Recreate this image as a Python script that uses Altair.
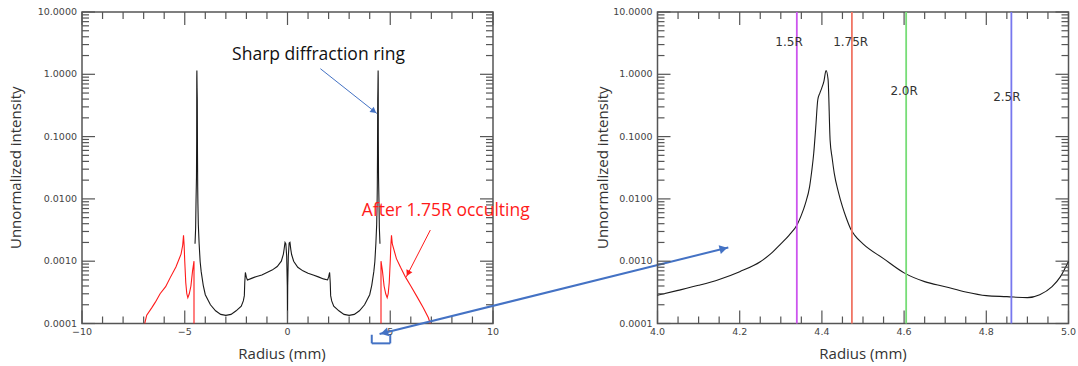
import altair as alt
import pandas as pd

# ---------------- Left panel: full radial profile (black) ----------------
profile_x = [
    -4.50, -4.47, -4.45, -4.43, -4.42, -4.415, -4.41, -4.40, -4.39, -4.38,
    -4.37, -4.36, -4.34, -4.30, -4.25, -4.20, -4.10, -4.00, -3.75, -3.50,
    -3.25, -3.00, -2.75, -2.50, -2.25, -2.15, -2.10, -2.08, -2.05, -2.00,
    -1.95, -1.75, -1.50, -1.25, -1.00, -0.75, -0.50, -0.30, -0.20, -0.16,
    -0.12, -0.08, -0.04, -0.01, 0.00, 0.01, 0.04, 0.08, 0.12, 0.16,
    0.20, 0.30, 0.50, 0.75, 1.00, 1.25, 1.50, 1.75, 1.95, 2.00,
    2.05, 2.08, 2.10, 2.15, 2.25, 2.50, 2.75, 3.00, 3.25, 3.50,
    3.75, 4.00, 4.10, 4.20, 4.25, 4.30, 4.34, 4.36, 4.37, 4.38,
    4.39, 4.40, 4.41, 4.415, 4.42, 4.43, 4.45, 4.47, 4.50,
]
profile_y = [
    0.0019, 0.0034, 0.0096, 0.022, 0.087, 0.83, 1.15, 0.61, 0.39, 0.053,
    0.0156, 0.0085, 0.0039, 0.0019, 0.00098, 0.00068, 0.00041, 0.00029, 0.00020, 0.00016,
    0.00014, 0.000135, 0.00014, 0.00016, 0.00019, 0.00023, 0.00028, 0.00045, 0.00066, 0.00055,
    0.00050, 0.00053, 0.00057, 0.00060, 0.00066, 0.00072, 0.00082, 0.00100, 0.00130, 0.00160,
    0.00200, 0.00190, 0.00120, 0.00040, 0.00010, 0.00040, 0.00120, 0.00195, 0.00200, 0.00155,
    0.00128, 0.00100, 0.00080, 0.00070, 0.00064, 0.00060, 0.00056, 0.00052, 0.00050, 0.00056,
    0.00066, 0.00045, 0.00028, 0.00023, 0.00019, 0.00016, 0.00014, 0.000135, 0.00014, 0.00016,
    0.00020, 0.00029, 0.00041, 0.00068, 0.00098, 0.0019, 0.0039, 0.0085, 0.0156, 0.053,
    0.39, 0.61, 1.15, 0.83, 0.087, 0.022, 0.0096, 0.0034, 0.0019,
]

# ---------------- Left panel: after 1.75R occulting (red) ----------------
red_left_x = [-6.95, -6.85, -6.60, -6.43, -6.20, -5.93, -5.70, -5.43, -5.18, -5.10,
              -5.06, -5.03, -5.00, -4.95, -4.90, -4.85, -4.78, -4.70, -4.62, -4.55, -4.55]
red_left_y = [0.0001, 0.000136, 0.00018, 0.00022, 0.0003, 0.00039, 0.00055, 0.00081, 0.0013, 0.0018,
              0.0026, 0.0018, 0.0010, 0.00045, 0.0003, 0.00026, 0.0003, 0.0004, 0.0007, 0.0010, 0.0001]
red_right_x = [4.55, 4.55, 4.62, 4.70, 4.78, 4.85, 4.90, 4.95, 5.00, 5.03,
               5.06, 5.10, 5.30, 5.50, 5.75, 6.00, 6.30, 6.60, 6.85, 6.95]
red_right_y = [0.0001, 0.0010, 0.0007, 0.0004, 0.0003, 0.00026, 0.0003, 0.00045, 0.0010, 0.0018,
               0.0026, 0.0019, 0.0011, 0.0008, 0.00055, 0.0004, 0.00027, 0.00018, 0.000125, 0.0001]

# ---------------- Right panel: zoom on the ring ----------------
zoom_x = [4.00, 4.05, 4.10, 4.15, 4.20, 4.25, 4.28, 4.30, 4.32, 4.34,
          4.35, 4.36, 4.37, 4.375, 4.38, 4.385, 4.39, 4.395, 4.40, 4.405,
          4.41, 4.415, 4.42, 4.425, 4.43, 4.44, 4.45, 4.46, 4.47, 4.48,
          4.50, 4.55, 4.60, 4.65, 4.70, 4.75, 4.80, 4.85, 4.90, 4.93,
          4.96, 4.98, 5.00]
zoom_y = [0.000285, 0.00034, 0.00041, 0.00051, 0.00068, 0.00098, 0.0014, 0.0019, 0.0026, 0.0039,
          0.0055, 0.0085, 0.0156, 0.027, 0.053, 0.14, 0.39, 0.50, 0.61, 0.78,
          1.15, 0.83, 0.087, 0.045, 0.026, 0.013, 0.0075, 0.0048, 0.0033, 0.0026,
          0.0019, 0.0011, 0.00065, 0.00047, 0.00039, 0.00032, 0.00028, 0.00027, 0.00026, 0.00029,
          0.00039, 0.00056, 0.0010]

ring_names = ["1.5R", "1.75R", "2.0R", "2.5R"]
ring_pos = [4.339, 4.473, 4.605, 4.861]
ring_colors = ["#cc55ee", "#f07565", "#77dd77", "#7777ee"]
ring_label_x = [4.32, 4.47, 4.60, 4.85]
ring_label_y = [3.3, 3.3, 0.54, 0.44]

# ---------------- axis ticks / labels ----------------
y_major = [0.0001, 0.001, 0.01, 0.1, 1, 10]
y_minor = [m * 10.0 ** e for e in range(-4, 1) for m in range(2, 10)]
xl_major = [-10, -5, 0, 5, 10]
xl_minor = [-9, -8, -7, -6, -4, -3, -2, -1, 1, 2, 3, 4, 6, 7, 8, 9]
xr_major = [4.0, 4.2, 4.4, 4.6, 4.8, 5.0]
xr_minor = [4.05, 4.10, 4.15, 4.25, 4.30, 4.35, 4.45, 4.50, 4.55,
            4.65, 4.70, 4.75, 4.85, 4.90, 4.95]
x_title = "Radius (mm)"
y_title = "Unnormalized intensity"

# ---------------- annotations (data units of the left panel) ----------------
sharp_label = ["Sharp diffraction ring"]
sharp_label_x = [1.51]
sharp_label_y = [2.02]
sharp_arrow = {"x": [1.6], "y": [1.23], "x2": [4.36], "y2": [0.234]}
occ_label = ["After 1.75R occulting"]
occ_label_x = [7.7]
occ_label_y = [0.0065]
occ_arrow = {"x": [6.95], "y": [0.00316], "x2": [5.78], "y2": [0.00056]}
link_arrow = {"x": [4.48], "y": [6.8e-5], "x2": [21.45], "y2": [0.00166]}
bracket = {"x": [4.1, 4.1, 5.0], "x2": [4.1, 5.0, 5.0],
           "y": [6.6e-5, 4.8e-5, 4.8e-5], "y2": [4.8e-5, 4.8e-5, 6.6e-5]}

# ---------------- styling ----------------
TICK = "#555555"
LABEL_FONT = "DejaVu Sans"
TITLE_FONT = "Open Sans"
W, H = 411, 311.5
BLUE = "#4472c4"
MAJ, MIN = 13, 7

ys = alt.Scale(type="log", domain=[0.0001, 10])


def tick_rules(values, side, length, xs):
    """Inward frame ticks at the given axis values (positioned through the scales)."""
    d = pd.DataFrame({"v": values})
    r = alt.Chart(d).mark_rule(color=TICK, strokeWidth=1.2)
    if side == "bottom":
        return r.encode(x=alt.X("v:Q", scale=xs, axis=None), y=alt.value(H), y2=alt.value(H - length))
    if side == "top":
        return r.encode(x=alt.X("v:Q", scale=xs, axis=None), y=alt.value(0), y2=alt.value(length))
    if side == "left":
        return r.encode(y=alt.Y("v:Q", scale=ys, axis=None), x=alt.value(0), x2=alt.value(length))
    return r.encode(y=alt.Y("v:Q", scale=ys, axis=None), x=alt.value(W), x2=alt.value(W - length))


def frame_ticks(xs, x_major, x_minor):
    out = []
    for side in ("bottom", "top"):
        out.append(tick_rules(x_major, side, MAJ, xs))
        out.append(tick_rules(x_minor, side, MIN, xs))
    for side in ("left", "right"):
        out.append(tick_rules(y_major, side, MAJ, xs))
        out.append(tick_rules(y_minor, side, MIN, xs))
    return out


def axis_texts(xs, x_major, x_fmt, x_title_pos, y_title_pos):
    """Tick labels and axis titles, as text placed through the panel's scales."""
    xl = alt.Chart(pd.DataFrame({"v": x_major})).mark_text(
        font=LABEL_FONT, fontSize=9.5, color="#444444", align="center", baseline="top"
    ).encode(x=alt.X("v:Q", scale=xs, axis=None), y=alt.value(H + 3),
             text=alt.Text("v:Q", format=x_fmt))
    yl = alt.Chart(pd.DataFrame({"v": y_major})).mark_text(
        font=LABEL_FONT, fontSize=9.5, color="#444444", align="right", baseline="middle"
    ).encode(y=alt.Y("v:Q", scale=ys, axis=None), x=alt.value(-5),
             text=alt.Text("v:Q", format=".4f"))
    xt = alt.Chart(pd.DataFrame({"t": [x_title]})).mark_text(
        font=TITLE_FONT, fontSize=15, color="#333333", align="center", baseline="middle"
    ).encode(x=alt.value(x_title_pos), y=alt.value(H + 30), text="t:N")
    yt = alt.Chart(pd.DataFrame({"t": [y_title]})).mark_text(
        font=TITLE_FONT, fontSize=15, color="#333333", align="center", baseline="middle",
        angle=270,
    ).encode(x=alt.value(y_title_pos), y=alt.value(H / 2), text="t:N")
    return [xl, yl, xt, yt]


def text_layer(labels, xv, yv, color, xs):
    return alt.Chart(pd.DataFrame({"t": labels, "x": xv, "y": yv})).mark_text(
        font=TITLE_FONT, fontSize=17.5, color=color, align="center", baseline="middle"
    ).encode(x=alt.X("x:Q", scale=xs, axis=None), y=alt.Y("y:Q", scale=ys, axis=None), text="t:N")


def arrow_line(d, color, width, xs):
    return alt.Chart(pd.DataFrame(d)).mark_rule(color=color, strokeWidth=width).encode(
        x=alt.X("x:Q", scale=xs, axis=None), x2="x2:Q",
        y=alt.Y("y:Q", scale=ys, axis=None), y2="y2:Q",
    )


def arrow_head(xv, yv, shape, angle, color, size, dx, dy, xs):
    return alt.Chart(pd.DataFrame({"x": [xv], "y": [yv]})).mark_point(
        shape=shape, angle=angle, filled=True, color=color, opacity=1, size=size,
        xOffset=dx, yOffset=dy,
    ).encode(x=alt.X("x:Q", scale=xs, axis=None), y=alt.Y("y:Q", scale=ys, axis=None))


# ---------------- left panel ----------------
xs_l = alt.Scale(domain=[-10, 10])
prof_df = pd.DataFrame({"x": profile_x, "y": profile_y, "i": range(len(profile_x))})
red_df = pd.concat([
    pd.DataFrame({"x": red_left_x, "y": red_left_y, "i": range(len(red_left_x)), "seg": "L"}),
    pd.DataFrame({"x": red_right_x, "y": red_right_y, "i": range(len(red_right_x)), "seg": "R"}),
])

base_l = alt.Chart(prof_df).mark_line(color="#1a1a1a", strokeWidth=1.1).encode(
    x=alt.X("x:Q", scale=xs_l, axis=None),
    y=alt.Y("y:Q", scale=ys, axis=None),
    order="i:Q",
)
red_line = alt.Chart(red_df).mark_line(color="#ff1a1a", strokeWidth=1.1).encode(
    x=alt.X("x:Q", scale=xs_l, axis=None),
    y=alt.Y("y:Q", scale=ys, axis=None),
    detail="seg:N", order="i:Q",
)

left = alt.layer(
    base_l, red_line, *frame_ticks(xs_l, xl_major, xl_minor),
    *axis_texts(xs_l, xl_major, "d", 200, -66),
    text_layer(sharp_label, sharp_label_x, sharp_label_y, "#111111", xs_l),
    arrow_line(sharp_arrow, BLUE, 1.0, xs_l),
    arrow_head(sharp_arrow["x2"][0], sharp_arrow["y2"][0], "triangle-right", 38, BLUE, 45, -3.2, -2.5, xs_l),
    text_layer(occ_label, occ_label_x, occ_label_y, "#ff1a1a", xs_l),
    arrow_line(occ_arrow, "#ff1a1a", 1.0, xs_l),
    arrow_head(occ_arrow["x2"][0], occ_arrow["y2"][0], "triangle-right", 117, "#ff1a1a", 45, 1.8, -3.6, xs_l),
    arrow_line(link_arrow, BLUE, 2.0, xs_l),
    arrow_head(link_arrow["x2"][0], link_arrow["y2"][0], "triangle-right", 346, BLUE, 80, -4.8, 1.2, xs_l),
    arrow_head(link_arrow["x"][0], link_arrow["y"][0], "triangle-left", 346, BLUE, 80, 4.8, -1.2, xs_l),
    arrow_line(bracket, BLUE, 2.0, xs_l),
).properties(width=W, height=H)

# ---------------- right panel ----------------
xs_r = alt.Scale(domain=[4.0, 5.0])
zoom_df = pd.DataFrame({"x": zoom_x, "y": zoom_y, "i": range(len(zoom_x))})
base_r = alt.Chart(zoom_df).mark_line(color="#1a1a1a", strokeWidth=1.1, interpolate="monotone").encode(
    x=alt.X("x:Q", scale=xs_r, axis=None),
    y=alt.Y("y:Q", scale=ys, axis=None),
    order="i:Q",
)

rings_df = pd.DataFrame({"name": ring_names, "pos": ring_pos,
                         "lx": ring_label_x, "ly": ring_label_y})
ring_rules = alt.Chart(rings_df).mark_rule(strokeWidth=1.8).encode(
    x=alt.X("pos:Q", scale=xs_r, axis=None),
    color=alt.Color("name:N", scale=alt.Scale(domain=ring_names, range=ring_colors), legend=None),
)
ring_text = alt.Chart(rings_df).mark_text(
    font=LABEL_FONT, fontSize=12, color="#333333", align="center", baseline="middle"
).encode(
    x=alt.X("lx:Q", scale=xs_r, axis=None),
    y=alt.Y("ly:Q", scale=ys, axis=None),
    text="name:N",
)

right = alt.layer(
    base_r, ring_rules, *frame_ticks(xs_r, xr_major, xr_minor),
    *axis_texts(xs_r, xr_major, ".1f", W / 2, -54.5), ring_text,
).properties(width=W, height=H)

chart = alt.hconcat(left, right, spacing=164.5, bounds="flush").configure_view(
    stroke=TICK, strokeWidth=1.5
).properties(
    padding={"left": 8, "top": 6, "right": 0, "bottom": 0},
    background="white",
)

chart.save("out.html", embed_options={"renderer": "svg", "actions": False})
